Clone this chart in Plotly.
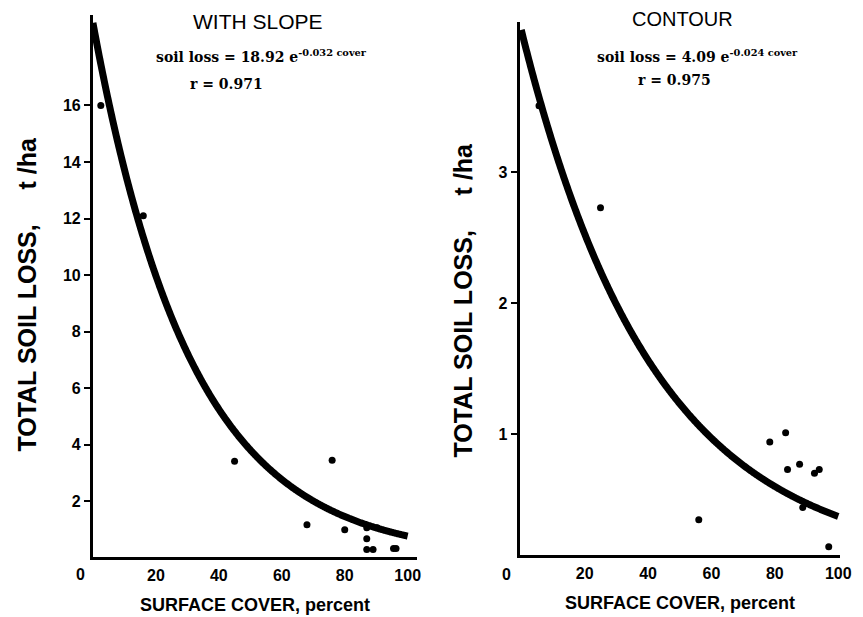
import numpy as np
import plotly.graph_objects as go

# Observed plots: surface cover (percent) vs total soil loss (t/ha)
slope_cover = [2.5, 16, 45, 76, 68, 80, 87, 90.3, 87, 87, 89, 95.5, 96.3]
slope_loss = [16.0, 12.1, 3.42, 3.45, 1.17, 1.0, 1.07, 1.07, 0.68, 0.3, 0.3, 0.33, 0.33]

contour_cover = [5.6, 25, 56, 78.4, 83.4, 84, 87.8, 92.5, 94, 88.8, 97]
contour_loss = [3.51, 2.73, 0.345, 0.94, 1.01, 0.73, 0.77, 0.70, 0.73, 0.44, 0.14]

# Fitted exponential models: soil loss = a * exp(b * cover)
slope_a, slope_b, slope_r = 18.92, -0.032, 0.971
contour_a, contour_b, contour_r = 4.09, -0.024, 0.975

slope_yticks = [2, 4, 6, 8, 10, 12, 14, 16]
contour_yticks = [1, 2, 3]
xticks = [20, 40, 60, 80, 100]

W, H = 863, 617
cover_fit = np.linspace(0, 100, 501)

fig = go.Figure()

fig.add_trace(go.Scatter(
    x=cover_fit, y=slope_a * np.exp(slope_b * cover_fit), mode="lines",
    line=dict(color="black", width=7, simplify=False), xaxis="x", yaxis="y",
    hoverinfo="skip"))
fig.add_trace(go.Scatter(
    x=slope_cover, y=slope_loss, mode="markers",
    marker=dict(color="black", size=7), xaxis="x", yaxis="y"))

fig.add_trace(go.Scatter(
    x=cover_fit, y=contour_a * np.exp(contour_b * cover_fit), mode="lines",
    line=dict(color="black", width=7, simplify=False), xaxis="x2", yaxis="y2",
    hoverinfo="skip"))
fig.add_trace(go.Scatter(
    x=contour_cover, y=contour_loss, mode="markers",
    marker=dict(color="black", size=7), xaxis="x2", yaxis="y2"))

sans = "Liberation Sans"
tick_font = dict(family=sans, size=16, color="black")
xtitle_font = dict(family=sans, size=18, color="black")
ytitle_font = dict(family=sans, size=25, color="black")


def bold(values):
    return [f"<b>{v}</b>" for v in values]


common_x = dict(
    showline=True, linecolor="black", linewidth=3, showgrid=False, zeroline=False,
    ticks="", tickvals=xticks, ticktext=bold(xticks), tickfont=tick_font,
    ticklabelstandoff=2,
    title=dict(text="<b>SURFACE COVER, percent</b>", font=xtitle_font, standoff=16),
)
common_y = dict(
    showline=True, linecolor="black", linewidth=3, showgrid=False, zeroline=False,
    ticks="outside", ticklen=6, tickwidth=2, tickcolor="black", tickfont=tick_font,
)

fig.update_layout(
    width=W, height=H,
    margin=dict(l=0, r=0, t=0, b=0),
    paper_bgcolor="white", plot_bgcolor="white",
    showlegend=False,
    xaxis=dict(common_x, domain=[94.25 / W, 423 / W], range=[0, 103], anchor="y"),
    yaxis=dict(common_y, domain=[1 - 556.5 / H, 1 - 15 / H], range=[0.05, 19.2],
               tickvals=slope_yticks, ticktext=bold(slope_yticks), anchor="x"),
    xaxis2=dict(common_x, domain=[527 / W, 852 / W], range=[-0.5, 100.6], anchor="y2"),
    yaxis2=dict(common_y, domain=[1 - 555 / H, 1 - 22 / H], range=[0.076, 4.15],
                tickvals=contour_yticks, ticktext=bold(contour_yticks), anchor="x2"),
)

eq_font = dict(family="DejaVu Serif", size=14, color="black")
head_font = dict(family=sans, size=21, color="black")


def note(text, x, y, font, angle=0):
    fig.add_annotation(text=text, xref="paper", yref="paper", x=x / W, y=1 - y / H,
                       showarrow=False, font=font, xanchor="center", yanchor="middle",
                       textangle=angle)


ytitle = "<b>TOTAL SOIL LOSS,     t /ha</b>"
note(ytitle, 27, 294, ytitle_font, -90)
note(ytitle, 470, 300, ytitle_font, -90)

note("WITH SLOPE", 262, 22, head_font)
note("CONTOUR", 692, 19, dict(head_font, size=20))
note(f"<b>soil loss = {slope_a:.2f} e<sup>{slope_b:.3f} cover</sup></b>", 265, 56, eq_font)
note(f"<b>r = {slope_r:.3f}</b>", 230, 84, eq_font)
note(f"<b>soil loss = {contour_a:.2f} e<sup>{contour_b:.3f} cover</sup></b>", 707, 56, eq_font)
note(f"<b>r = {contour_r:.3f}</b>", 684, 80, eq_font)
note("<b>0</b>", 82, 574, tick_font)
note("<b>0</b>", 514, 574, tick_font)

fig.write_html("out.html")
